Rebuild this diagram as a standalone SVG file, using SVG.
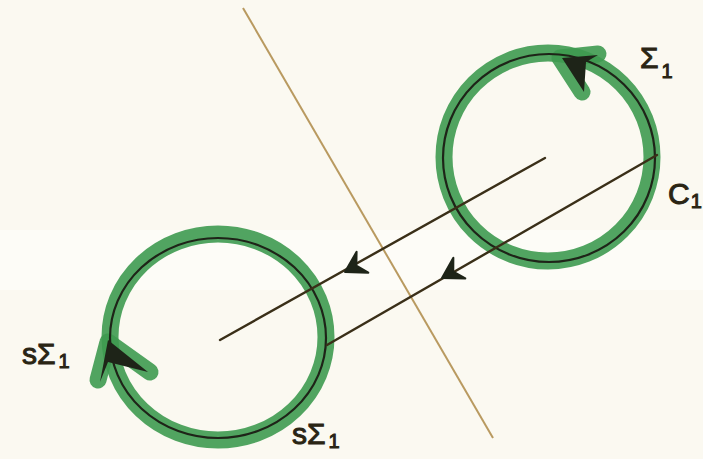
<svg xmlns="http://www.w3.org/2000/svg" width="703" height="459" viewBox="0 0 703 459">
<style>
.green{fill:none;stroke:#3e9a50;stroke-width:17;stroke-linecap:round;stroke-linejoin:round;opacity:.9}
.ink{fill:none;stroke:#1e2418;stroke-width:2.2;stroke-linecap:round}
.rod{fill:none;stroke:#3a2f18;stroke-width:2.4;stroke-linecap:round}
.mirror{fill:none;stroke:#b99a60;stroke-width:2}
.lbl{font-family:"Liberation Sans",Arial,sans-serif;font-size:30px;fill:#2a2514;stroke:#2a2514;stroke-width:1}
.sub{font-size:20px}
</style>
<defs>
<path id="ah" d="M0,0 L-20,-12 L-13,0 L-20,12 Z" fill="#1e2418" stroke="#1e2418" stroke-width="2" stroke-linejoin="round"/>
</defs>
<rect width="703" height="459" fill="#fbf9f1"/>
<rect y="230" width="703" height="60" fill="#fdfcf7"/>
<g id="mirror"><line class="mirror" x1="243" y1="8" x2="493" y2="438"/></g>
<g id="sigma1">
<ellipse class="green" cx="548" cy="157" rx="104" ry="104"/>
<path class="green" d="M560,58 L598,54 M560,58 L582,92"/>
<ellipse class="ink" cx="549" cy="158" rx="106" ry="104"/>
<path d="M562,58 L598,55 L586,62 L584,92 Z" fill="#1e2418"/>
</g>
<g id="ssigma1">
<ellipse class="green" cx="218" cy="337" rx="108" ry="103"/>
<path class="green" d="M108,342 L98,380 M108,342 L150,372"/>
<ellipse class="ink" cx="218" cy="338" rx="108" ry="100"/>
<path d="M108,340 L100,382 L108,362 L148,372 Z" fill="#1e2418"/>
</g>
<g id="connectors">
<line class="rod" x1="545" y1="158" x2="220" y2="340"/>
<line class="rod" x1="657" y1="155" x2="327" y2="345"/>
<use href="#ah" transform="translate(345,272) rotate(150.75)"/>
<use href="#ah" transform="translate(442,278) rotate(150.1)"/>
</g>
<g id="labels">
<text class="lbl" x="640" y="68">Σ<tspan class="sub" dx="3" dy="10">1</tspan></text>
<text class="lbl" x="668" y="204" font-size="28">C<tspan class="sub" dx="1" dy="4">1</tspan></text>
<text class="lbl" x="22" y="364">sΣ<tspan class="sub" dx="3" dy="4">1</tspan></text>
<text class="lbl" x="292" y="444">sΣ<tspan class="sub" dx="3" dy="4">1</tspan></text>
</g>
</svg>
